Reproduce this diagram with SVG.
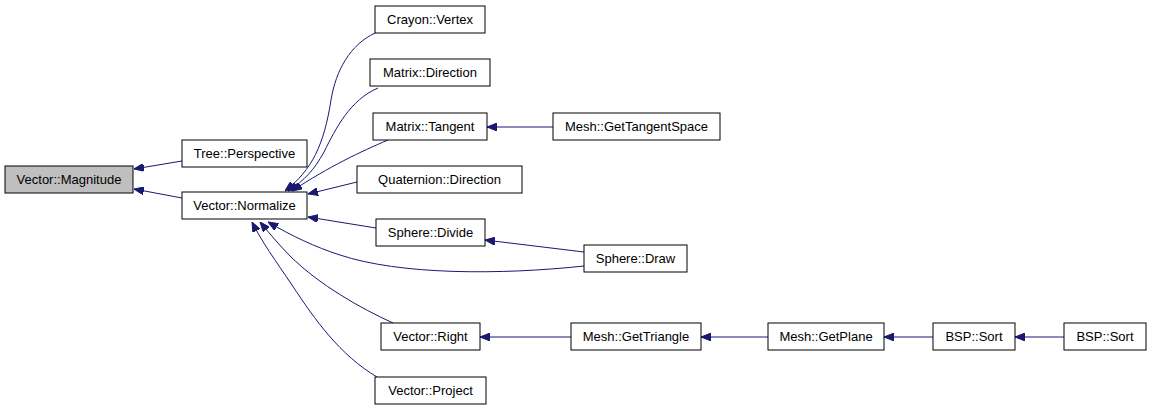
<svg xmlns="http://www.w3.org/2000/svg" width="1152" height="411" viewBox="0 0 1152 411">
<style>
.n rect{fill:#ffffff;stroke:#000000;stroke-width:1}
.n text{font-family:"Liberation Sans",Arial,sans-serif;font-size:13px;fill:#000000;text-anchor:middle}
.e path{fill:none;stroke:#191970;stroke-width:1}
</style>
<defs>
<marker id="ah" viewBox="0 0 10 8" refX="10" refY="4" markerWidth="10" markerHeight="8" markerUnits="userSpaceOnUse" orient="auto">
<path d="M0,0 L10,4 L0,8 Z" fill="#191970" stroke="#191970" stroke-width="1"/>
</marker>
</defs>
<rect width="1152" height="411" fill="#ffffff"/>
<g id="edges" class="e">
<path d="M182,161 L134,169" marker-end="url(#ah)"/>
<path d="M182,198 L134,189" marker-end="url(#ah)"/>
<path d="M375,33 C350,45 336,70 331,100 C324,145 312,170 285,191" marker-end="url(#ah)"/>
<path d="M378,88 C350,100 336,128 324,152 C314,170 305,180 288,191" marker-end="url(#ah)"/>
<path d="M388,140 C360,152 330,166 292,191" marker-end="url(#ah)"/>
<path d="M357,182 L308,194" marker-end="url(#ah)"/>
<path d="M376,228 L308,217" marker-end="url(#ah)"/>
<path d="M584,266 C500,275 400,275 340,255 C315,247 292,236 268,222" marker-end="url(#ah)"/>
<path d="M584,252 L485,240" marker-end="url(#ah)"/>
<path d="M393,323 C360,308 320,285 292,258 C280,246 270,234 260,222" marker-end="url(#ah)"/>
<path d="M377,377 C340,355 315,320 292,285 C275,260 262,242 252,222" marker-end="url(#ah)"/>
<path d="M553,127 L487,127" marker-end="url(#ah)"/>
<path d="M571,337 L480,337" marker-end="url(#ah)"/>
<path d="M768,337 L701,337" marker-end="url(#ah)"/>
<path d="M933,337 L884,337" marker-end="url(#ah)"/>
<path d="M1064,337 L1015,337" marker-end="url(#ah)"/>
</g>
<g id="n_magnitude" class="n"><rect x="5" y="166" width="128" height="27" style="fill:#bfbfbf"/><text x="69" y="184">Vector::Magnitude</text></g>
<g id="n_perspective" class="n"><rect x="182" y="140" width="125" height="27"/><text x="244.5" y="158">Tree::Perspective</text></g>
<g id="n_normalize" class="n"><rect x="182" y="192" width="125" height="27"/><text x="244.5" y="210">Vector::Normalize</text></g>
<g id="n_crayon" class="n"><rect x="375" y="6" width="110" height="27"/><text x="430" y="24">Crayon::Vertex</text></g>
<g id="n_mdirection" class="n"><rect x="370" y="59" width="120" height="27"/><text x="430" y="77">Matrix::Direction</text></g>
<g id="n_mtangent" class="n"><rect x="373" y="113" width="114" height="27"/><text x="430" y="131">Matrix::Tangent</text></g>
<g id="n_qdirection" class="n"><rect x="357" y="166" width="165" height="27"/><text x="439.5" y="184">Quaternion::Direction</text></g>
<g id="n_sdivide" class="n"><rect x="376" y="219" width="109" height="27"/><text x="430.5" y="237">Sphere::Divide</text></g>
<g id="n_sdraw" class="n"><rect x="584" y="245" width="103" height="27"/><text x="635.5" y="263">Sphere::Draw</text></g>
<g id="n_vright" class="n"><rect x="381" y="323" width="99" height="27"/><text x="430.5" y="341">Vector::Right</text></g>
<g id="n_vproject" class="n"><rect x="375" y="377" width="111" height="27"/><text x="430.5" y="395">Vector::Project</text></g>
<g id="n_tangentspace" class="n"><rect x="553" y="113" width="167" height="27"/><text x="636.5" y="131">Mesh::GetTangentSpace</text></g>
<g id="n_gettriangle" class="n"><rect x="571" y="323" width="130" height="27"/><text x="636" y="341">Mesh::GetTriangle</text></g>
<g id="n_getplane" class="n"><rect x="768" y="323" width="116" height="27"/><text x="826" y="341">Mesh::GetPlane</text></g>
<g id="n_bspsort1" class="n"><rect x="933" y="323" width="82" height="27"/><text x="974" y="341">BSP::Sort</text></g>
<g id="n_bspsort2" class="n"><rect x="1064" y="323" width="82" height="27"/><text x="1105" y="341">BSP::Sort</text></g>
</svg>
